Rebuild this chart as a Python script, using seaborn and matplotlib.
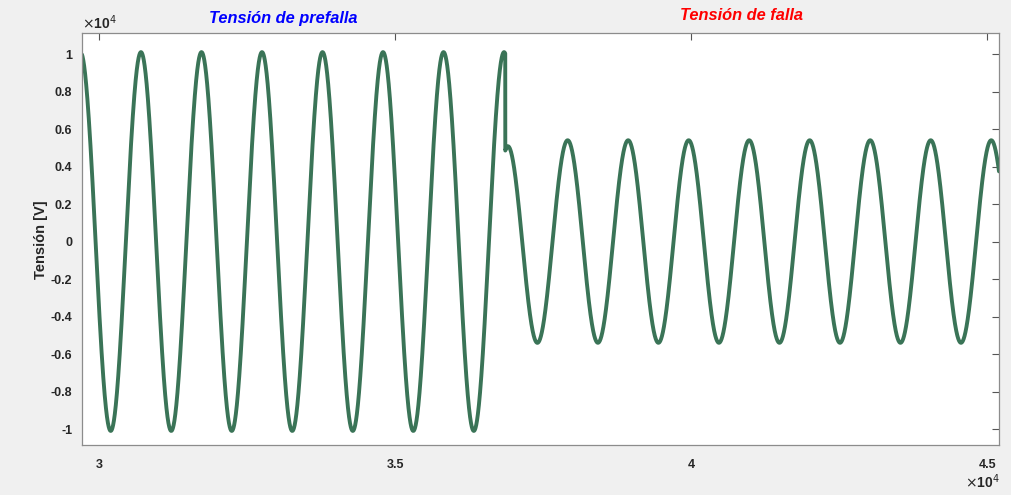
import numpy as np
import pandas as pd
import matplotlib
matplotlib.use("Agg")
import matplotlib.pyplot as plt
import seaborn as sns

# Waveform parameters (samples on the x axis, volts on the y axis)
t_start, t_end = 29713, 45200
period = 1022                      # samples per cycle
prefault_amp = 10100               # V
prefault_peak = 30709              # sample of a prefault crest
fault_time = 36862                 # sample where the fault begins
fault_amp = 5400                   # V
fault_peak = 37915                 # sample of a fault crest
fault_offset = -450                # initial decaying offset after the fault, V
fault_tau = 110                    # decay constant of that offset, samples

x_ticks = [30000, 35000, 40000, 45000]
x_tick_labels = ["3", "3.5", "4", "4.5"]
y_ticks = [-10000, -8000, -6000, -4000, -2000, 0, 2000, 4000, 6000, 8000, 10000]
y_tick_labels = ["-1", "-0.8", "-0.6", "-0.4", "-0.2", "0", "0.2", "0.4", "0.6", "0.8", "1"]

t = np.arange(t_start, t_end + 1)
pre = prefault_amp * np.cos(2 * np.pi * (t - prefault_peak) / period)
post = (fault_amp * np.cos(2 * np.pi * (t - fault_peak) / period)
        + fault_offset * np.exp(-(t - fault_time) / fault_tau))
v = np.where(t < fault_time, pre, post)
df = pd.DataFrame({"muestra": t, "tension": v})

sns.set_style("white")
plt.rcParams["font.family"] = ["Liberation Sans", "DejaVu Sans"]

fig = plt.figure(figsize=(10.11, 4.95), dpi=100, facecolor="#f0f0f0")
ax = fig.add_axes([82 / 1011, 1 - 445 / 495, (999 - 82) / 1011, (445 - 33) / 495])
ax.set_facecolor("white")

sns.lineplot(data=df, x="muestra", y="tension", ax=ax, color="#3a7457",
             linewidth=2.8, estimator=None, sort=False)

ax.set_xlim(t_start, t_end)
ax.set_ylim(-10850, 11120)
ax.set_xticks(x_ticks)
ax.set_xticklabels(x_tick_labels)
ax.set_yticks(y_ticks)
ax.set_yticklabels(y_tick_labels)
for lbl in ax.get_xticklabels() + ax.get_yticklabels():
    lbl.set_fontweight("bold")
    lbl.set_color("#262626")
ax.tick_params(axis="both", direction="in", length=5, width=0.8, color="#555555",
               labelsize=9, top=True, right=True)
ax.tick_params(axis="x", pad=10)
ax.tick_params(axis="y", pad=7)
for s in ax.spines.values():
    s.set_color("#8c8c8c")
    s.set_linewidth(0.9)

ax.set_xlabel("")
ax.set_ylabel("")
fig.text(41 / 1011, 1 - 240 / 495, "Tensión [V]", fontsize=10.5, fontweight="bold",
         color="#262626", rotation=90, ha="center", va="center")

# Exponent markers
fig.text(82 / 1011, 1 - 23 / 495, r"$\times$10$^{4}$", fontsize=10, fontweight="bold",
         color="#262626", ha="left", va="center")
fig.text(1000 / 1011, 1 - 482 / 495, r"$\times$10$^{4}$", fontsize=10, fontweight="bold",
         color="#262626", ha="right", va="center")

# Section titles
fig.text(283 / 1011, 1 - 18 / 495, "Tensión de prefalla", fontsize=11.8, fontweight="bold",
         fontstyle="italic", color="#0000ff", ha="center", va="center")
fig.text(742 / 1011, 1 - 15 / 495, "Tensión de falla", fontsize=11.8, fontweight="bold",
         fontstyle="italic", color="#ff0000", ha="center", va="center")

fig.savefig("out.png", dpi=100, facecolor=fig.get_facecolor())
